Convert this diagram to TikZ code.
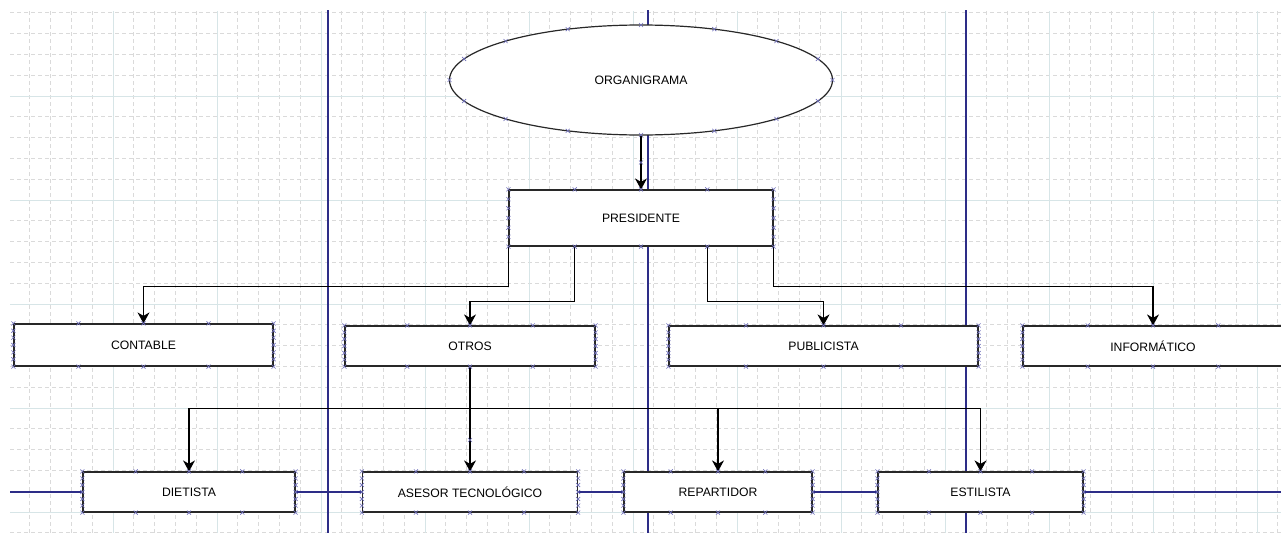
\documentclass[tikz,border=0pt]{standalone}
\usepackage{fontspec}
\setmainfont{Liberation Sans}
\usetikzlibrary{arrows.meta,calc,shapes.geometric}
\definecolor{gridsolid}{RGB}{215,229,231}
\definecolor{griddash}{RGB}{218,218,218}
\definecolor{guide}{RGB}{45,45,135}
\definecolor{markc}{RGB}{110,110,185}
\definecolor{edge}{RGB}{40,40,40}
\begin{document}
\begin{tikzpicture}[x=1pt,y=-1pt, font=\fontsize{12.2}{14}\selectfont,
  box/.style={draw=edge, line width=1.2pt, fill=white, inner sep=0pt, rectangle},
  conn/.style={draw=black, line width=1.2pt},
  arr/.style={conn, -{Stealth[length=11pt,width=12pt,inset=3.5pt]}},
  guideline/.style={draw=guide, line width=1.2pt},
  xm/.pic={\draw[markc, line width=0.6pt] (-2,-2)--(2,2) (-2,2)--(2,-2);}]
\useasboundingbox (0,0) rectangle (1281,533);
\clip (0,0) rectangle (1281,533);
\fill[white] (0,0) rectangle (1281,533);
% grid
\foreach \i in {1,...,61} \draw[griddash, dash pattern=on 4pt off 3pt, line width=0.7pt] ({9+20.8*\i},11) -- ({9+20.8*\i},533);
\foreach \i in {1,...,26} \draw[griddash, dash pattern=on 4pt off 3pt, line width=0.7pt] (10,{-8+20.8*\i}) -- (1281,{-8+20.8*\i});
\foreach \i in {1,...,12} \draw[gridsolid, line width=1pt] ({9+104*\i},11) -- ({9+104*\i},533);
\foreach \i in {1,...,5} \draw[gridsolid, line width=1pt] (10,{-8+104*\i}) -- (1281,{-8+104*\i});
% guide lines
\draw[guideline] (328,10) -- (328,533);
\draw[guideline] (648,10) -- (648,533);
\draw[guideline] (966,10) -- (966,533);
\draw[guideline] (10,492) -- (1281,492);
% nodes
\node[ellipse, draw=edge, line width=1.2pt, fill=white, minimum width=383pt, minimum height=110pt, inner sep=0pt] (org) at (641,80) {ORGANIGRAMA};
\node[box, minimum width=264pt, minimum height=56pt] (pres) at (641,218) {PRESIDENTE};
\node[box, minimum width=259pt, minimum height=42pt] (contable) at (143.5,345) {CONTABLE};
\node[box, minimum width=250pt, minimum height=40pt] (otros) at (470,346) {OTROS};
\node[box, minimum width=309pt, minimum height=40pt] (publi) at (823.5,346) {PUBLICISTA};
\node[box, minimum width=260pt, minimum height=40pt] (info) at (1153,346) {INFORMÁTICO};
\node[box, minimum width=212pt, minimum height=40pt] (diet) at (189,492) {DIETISTA};
\node[box, minimum width=215pt, minimum height=40pt] (ases) at (470,492) {ASESOR TECNOLÓGICO};
\node[box, minimum width=188pt, minimum height=40pt] (repa) at (718,492) {REPARTIDOR};
\node[box, minimum width=205pt, minimum height=40pt] (esti) at (980.5,492) {ESTILISTA};
% connectors
\draw[arr] (org.south) -- (pres.north);
\draw[arr] (pres.south west) -- ++(0,40) -| (contable.north);
\draw[arr] ($(pres.south west)!0.25!(pres.south east)$) -- ++(0,55) -| (otros.north);
\draw[arr] ($(pres.south west)!0.75!(pres.south east)$) -- ++(0,55) -| (publi.north);
\draw[arr] (pres.south east) -- ++(0,40) -| (info.north);
\path (otros.south) ++(0,42) coordinate (bus);
\draw[arr] (otros.south) -- (ases.north);
\draw[conn] (bus -| diet.north) -- (bus -| esti.north);
\draw[arr] (bus) -| (diet.north);
\draw[arr] (bus) -| (repa.north);
\draw[arr] (bus) -| (esti.north);
% connection marks
\foreach \n in {pres,contable,otros,publi,info,diet,ases,repa,esti}{
  \foreach \f in {0,0.25,0.5,0.75,1}{
    \pic at ($(\n.north west)!\f!(\n.north east)$) {xm};
    \pic at ($(\n.south west)!\f!(\n.south east)$) {xm};}
  \foreach \f in {0.17,0.33,0.5,0.67,0.83}{
    \pic at ($(\n.north west)!\f!(\n.south west)$) {xm};
    \pic at ($(\n.north east)!\f!(\n.south east)$) {xm};}
}
\foreach \a in {0,22.5,...,337.5} \pic at ($(org.center)+({191.5*cos(\a)},{55*sin(\a)})$) {xm};
\pic at ($(org.south)!0.5!(pres.north)$) {xm};
\pic at ($(bus)!0.5!(ases.north)$) {xm};
\end{tikzpicture}
\end{document}
